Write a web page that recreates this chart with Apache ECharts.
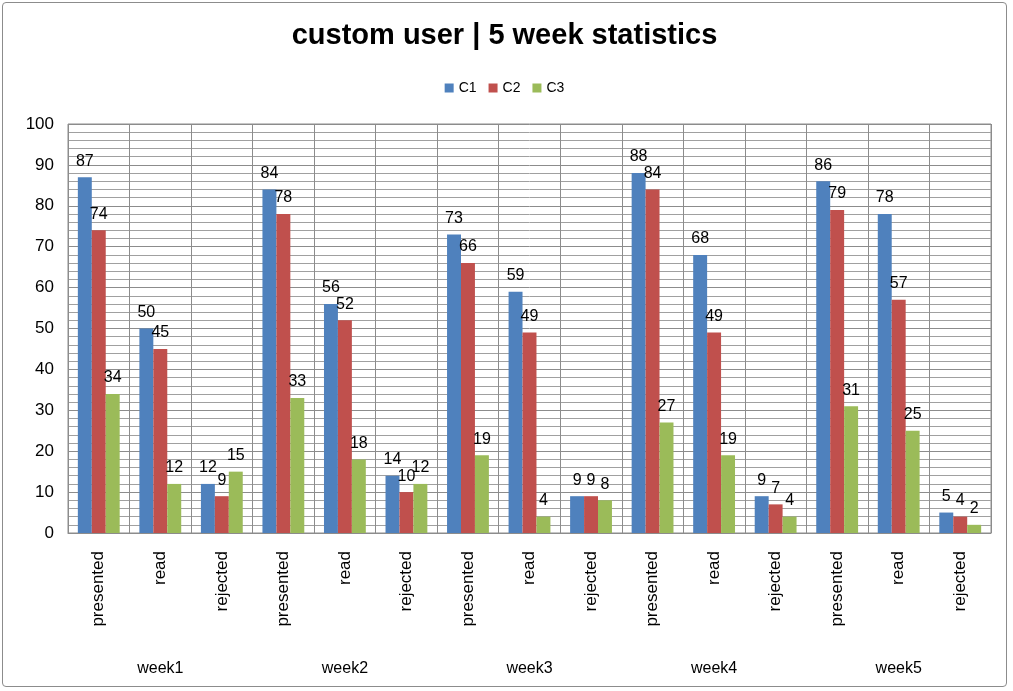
<!DOCTYPE html>
<html><head><meta charset="utf-8">
<script src="https://cdn.jsdelivr.net/npm/echarts@6/dist/echarts.min.js"></script>
<style>
html,body{margin:0;padding:0;background:#fff;}
#c{position:absolute;left:2px;top:2px;width:1005px;height:685px;border:1px solid #8c8c8c;border-radius:4px;box-sizing:border-box;}
</style></head>
<body><div id="c"></div>
<script>
const weeks = ['week1','week2','week3','week4','week5'];
const kinds = ['presented','read','rejected'];
const c1 = [87,50,12, 84,56,14, 73,59,9, 88,68,9, 86,78,5];
const c2 = [74,45,9, 78,52,10, 66,49,9, 84,49,7, 79,57,4];
const c3 = [34,12,15, 33,18,12, 19,4,8, 27,19,4, 31,25,2];
const seriesNames = ['C1','C2','C3'];
const colors = ['#4F81BD','#C0504D','#9BBB59'];

const categories = [];
weeks.forEach(w => kinds.forEach(k => categories.push(k)));
const FONT = '"Liberation Sans", Arial, sans-serif';
const chart = echarts.init(document.getElementById('c'));
const mk = (name, data, color) => ({
  name, type:'bar', data, xAxisIndex:0, yAxisIndex:0,
  barGap:'0%', barCategoryGap:'32%',
  itemStyle:{color},
  label:{show:true, position:'top', distance:8, color:'#000', fontSize:16, fontFamily:FONT}
});
chart.setOption({
  animation:false,
  title:{text:'custom user | 5 week statistics', left:'center', top:13,
    textStyle:{fontFamily:FONT, fontSize:29, fontWeight:'bold', color:'#000'}},
  legend:{top:73, left:'center', itemWidth:9, itemHeight:9, itemGap:12,
    icon:'rect', textStyle:{fontFamily:FONT, fontSize:14, color:'#000'}},
  grid:{left:65, right:15, top:121, bottom:153, show:true, borderColor:'#8c8c8c', borderWidth:1},
  xAxis:[{
    type:'category', data:categories, position:'bottom',
    axisLine:{show:true, lineStyle:{color:'#8c8c8c'}},
    axisTick:{show:false},
    splitLine:{show:true, lineStyle:{color:'#8c8c8c'}},
    axisLabel:{rotate:90, margin:18, fontSize:17, fontFamily:FONT, color:'#000', interval:0}
  },{
    type:'category', data:weeks, position:'bottom', offset:120,
    axisLine:{show:false}, axisTick:{show:false}, splitLine:{show:false},
    axisLabel:{fontSize:16, fontFamily:FONT, color:'#000', interval:0}
  }],
  yAxis:{type:'value', min:0, max:100, interval:10,
    axisLine:{show:false}, axisTick:{show:false},
    axisLabel:{fontSize:17, fontFamily:FONT, color:'#000', margin:14},
    splitLine:{show:true, lineStyle:{color:'#8c8c8c'}},
    minorTick:{show:false, splitNumber:5},
    minorSplitLine:{show:true, lineStyle:{color:'#a0a0a0'}}
  },
  series:[mk(seriesNames[0], c1, colors[0]), mk(seriesNames[1], c2, colors[1]), mk(seriesNames[2], c3, colors[2])]
});
</script></body></html>
